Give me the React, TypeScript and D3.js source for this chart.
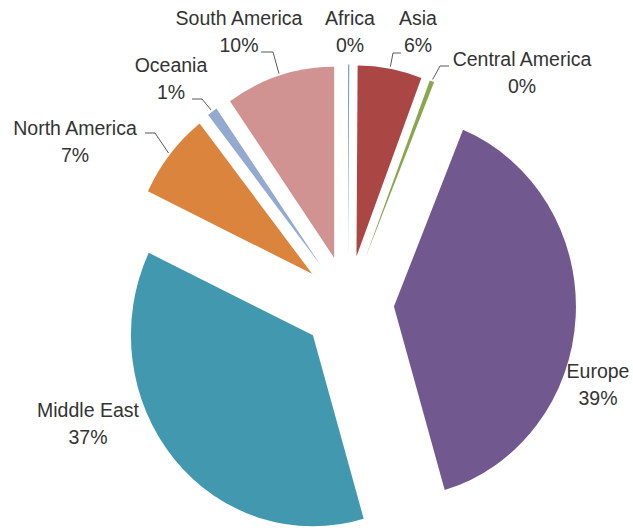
import React from "react";
import * as d3 from "d3";

const regions = [
  "Africa",
  "Asia",
  "Central America",
  "Europe",
  "Middle East",
  "North America",
  "Oceania",
  "South America",
];
const shares = [0.1, 5.7, 0.4, 39.3, 36.6, 7.3, 0.9, 9.7];
const colors = [
  "#6F93C6",
  "#AA4643",
  "#89A54E",
  "#71588F",
  "#4198AF",
  "#DB843D",
  "#93A9CF",
  "#D19392",
];

// where each label sits: centre x, baseline of first line
const labelSpots: Record<string, [number, number]> = {
  Africa: [350, 25],
  Asia: [418, 25],
  "Central America": [522, 66],
  Europe: [598, 378],
  "Middle East": [88, 417],
  "North America": [75, 135],
  Oceania: [171, 72],
  "South America": [239, 25],
};

// leader lines: short horizontal piece by the label, then to the slice
const leaderSpots: Record<string, [number, number, number]> = {
  Asia: [401, 393, 53],
  "Central America": [449, 440, 66],
  "North America": [145, 155, 133],
  Oceania: [192, 202, 99],
  "South America": [261, 273, 52],
};

const App = () => {
  const width = 633;
  const height = 531;
  const cx = 348;
  const cy = 304;
  const radius = 182;
  const explode = 46;
  const sy = 1.05;

  const data = regions.map((r, i) => ({ name: r, value: shares[i], color: colors[i] }));

  const pie = d3
    .pie<any>()
    .sort(null)
    .value((d) => d.value);
  const arcs = pie(data);
  const arc = d3.arc<any>().innerRadius(0).outerRadius(radius);

  const mid = (d: any) => (d.startAngle + d.endAngle) / 2;

  return (
    <svg
      width={width}
      height={height}
      style={{ position: "absolute", left: 0, top: 0, background: "#fff" }}
    >
      <g transform={`translate(${cx},${cy}) scale(1,${sy})`}>
        {arcs.map((d) => {
          const a = mid(d);
          const dx = explode * Math.sin(a);
          const dy = -explode * Math.cos(a);
          return (
            <path
              key={d.data.name}
              d={arc(d) || ""}
              fill={d.data.color}
              transform={`translate(${dx},${dy})`}
            />
          );
        })}
      </g>
      {arcs.map((d) => {
        const seg = leaderSpots[d.data.name];
        if (!seg) return null;
        const a = mid(d);
        const ex = cx + (explode + radius + 2) * Math.sin(a);
        const ey = cy - (explode + radius + 2) * Math.cos(a) * sy;
        return (
          <polyline
            key={"l" + d.data.name}
            points={`${seg[0]},${seg[2]} ${seg[1]},${seg[2]} ${ex},${ey}`}
            fill="none"
            stroke="#595959"
            strokeWidth={1}
          />
        );
      })}
      <g fontFamily="'Liberation Sans', Arial, sans-serif" fontSize={19.5} fill="#333">
        {arcs.map((d) => {
          const [lx, ly] = labelSpots[d.data.name];
          return (
            <text key={"t" + d.data.name} x={lx} y={ly} textAnchor="middle">
              <tspan x={lx}>{d.data.name}</tspan>
              <tspan x={lx} dy={27}>
                {Math.round(d.data.value) + "%"}
              </tspan>
            </text>
          );
        })}
      </g>
    </svg>
  );
};

export default App;
